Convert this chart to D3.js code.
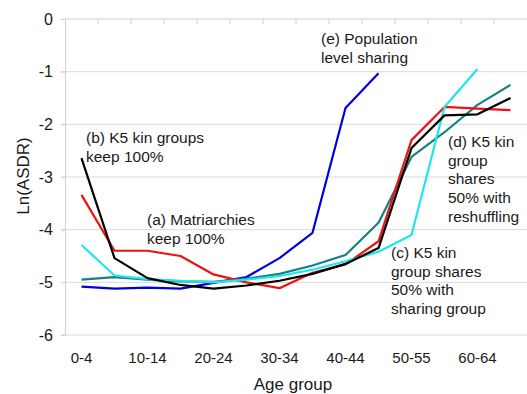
<!DOCTYPE html>
<html>
<head>
<meta charset="utf-8">
<script src="https://cdn.jsdelivr.net/npm/d3@7"></script>
<style>
  body { margin: 0; background: #fff; }
  text { font-family: "Liberation Sans", Arial, sans-serif; fill: #1a1a1a; }
</style>
</head>
<body>
<script>
// age groups along the x axis (only every second one gets a label)
var ageGroups = ["0-4", "5-9", "10-14", "15-19", "20-24", "25-29", "30-34",
                 "35-39", "40-44", "45-49", "50-55", "55-59", "60-64", "65-69"];
var shownLabels = ["0-4", "10-14", "20-24", "30-34", "40-44", "50-55", "60-64"];
var yTicks = [0, -1, -2, -3, -4, -5, -6];

// Ln(ASDR) per age group
var matriarchies  = [-3.34, -4.40, -4.40, -4.50, -4.85, -5.00, -5.11, -4.82, -4.66, -4.22, -2.30, -1.67, -1.70, -1.73];
var k5Keep        = [-2.64, -4.54, -4.92, -5.05, -5.12, -5.06, -4.97, -4.84, -4.65, -4.35, -2.45, -1.83, -1.81, -1.50];
var k5Sharing     = [-4.29, -4.87, -4.94, -4.97, -5.00, -4.95, -4.88, -4.76, -4.60, -4.42, -4.10, -1.67, -0.95];
var k5Reshuffle   = [-4.95, -4.90, -4.95, -4.98, -4.99, -4.93, -4.84, -4.68, -4.48, -3.87, -2.62, -2.15, -1.63, -1.25];
var population    = [-5.08, -5.12, -5.10, -5.12, -5.01, -4.90, -4.54, -4.06, -1.69, -1.03];

var svg = d3.select("body").append("svg")
  .attr("width", 527)
  .attr("height", 394);

var x = d3.scaleBand()
  .domain(ageGroups)
  .range([65, 527]);
var y = d3.scaleLinear()
  .domain([-6, 0])
  .range([335, 19]);

function cx(d, i) { return x(ageGroups[i]) + x.bandwidth() / 2; }

//gridlines
svg.append("g").selectAll("line")
  .data(yTicks.filter(function(t) { return t !== 0; }))
  .enter().append("line")
  .attr("x1", 61)
  .attr("x2", 527)
  .attr("y1", function(d) { return y(d); })
  .attr("y2", function(d) { return y(d); })
  .attr("stroke", "#d9d9d9")
  .attr("stroke-width", 1);

//left axis
var yAxis = svg.append("g")
  .attr("transform", "translate(65,0)")
  .call(d3.axisLeft(y).tickValues(yTicks).tickSize(4).tickPadding(8)
        .tickFormat(function(d) { return String(d); }));
yAxis.selectAll("path, line").attr("stroke", "#d0d0d0");
yAxis.selectAll("text")
  .style("font-size", "16px")
  .style("font-family", "Liberation Sans, Arial, sans-serif")
  .attr("fill", "#1a1a1a");

//x axis line sits at y = 0 (top), ticks pointing down at group boundaries
svg.append("line")
  .attr("x1", 65).attr("x2", 527)
  .attr("y1", y(0)).attr("y2", y(0))
  .attr("stroke", "#d0d0d0");
svg.append("g").selectAll("line")
  .data(ageGroups.slice(1))
  .enter().append("line")
  .attr("x1", function(d) { return x(d); })
  .attr("x2", function(d) { return x(d); })
  .attr("y1", y(0))
  .attr("y2", y(0) + 5)
  .attr("stroke", "#d0d0d0");

//category labels at the bottom
var xAxis = svg.append("g")
  .attr("transform", "translate(0," + y(-6) + ")")
  .call(d3.axisBottom(x).tickSize(0).tickPadding(17)
        .tickFormat(function(d) { return shownLabels.indexOf(d) >= 0 ? d : ""; }));
xAxis.select(".domain").remove();
xAxis.selectAll("text")
  .style("font-size", "15px")
  .style("font-family", "Liberation Sans, Arial, sans-serif")
  .attr("fill", "#1a1a1a");

//axis titles
svg.append("text")
  .attr("x", 293)
  .attr("y", 390)
  .attr("text-anchor", "middle")
  .style("font-size", "17px")
  .text("Age group");
svg.append("text")
  .attr("transform", "translate(29,176) rotate(-90)")
  .attr("text-anchor", "middle")
  .style("font-size", "17px")
  .text("Ln(ASDR)");

//the five series
var line = d3.line()
  .x(cx)
  .y(function(d) { return y(d); });

var series = [
  { values: population,   color: "#0000dd" },
  { values: k5Reshuffle,  color: "#178080" },
  { values: matriarchies, color: "#ee1111" },
  { values: k5Sharing,    color: "#1ee6ee" },
  { values: k5Keep,       color: "#000000" }
];
svg.append("g").selectAll("path")
  .data(series)
  .enter().append("path")
  .attr("d", function(s) { return line(s.values); })
  .attr("fill", "none")
  .attr("stroke", function(s) { return s.color; })
  .attr("stroke-width", 2.2)
  .attr("stroke-linejoin", "round");

//annotations
var notes = [
  { x: 86,  y: 143, lines: ["(b) K5 kin groups", "keep 100%"] },
  { x: 147, y: 225, lines: ["(a) Matriarchies", "keep 100%"] },
  { x: 321, y: 44,  lines: ["(e) Population", "level sharing"] },
  { x: 448, y: 147, lines: ["(d) K5 kin", "group", "shares", "50% with", "reshuffling"] },
  { x: 391, y: 258, lines: ["(c) K5 kin", "group shares", "50% with", "sharing group"] }
];
notes.forEach(function(n) {
  var t = svg.append("text")
    .attr("x", n.x)
    .attr("y", n.y)
    .style("font-size", "15.5px");
  n.lines.forEach(function(l, i) {
    t.append("tspan")
      .attr("x", n.x)
      .attr("dy", i === 0 ? 0 : 18.7)
      .text(l);
  });
});
</script>
</body>
</html>
